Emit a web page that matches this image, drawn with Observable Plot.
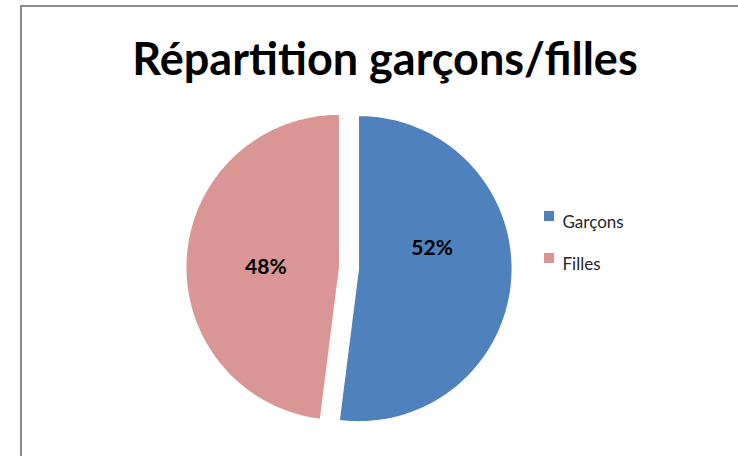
<!DOCTYPE html>
<html>
<head>
<meta charset="utf-8">
<script src="https://cdn.jsdelivr.net/npm/d3@7"></script>
<script src="https://cdn.jsdelivr.net/npm/@observablehq/plot@0.6"></script>
<style>
  html, body { margin: 0; padding: 0; background: #fff; }
  #wrap { position: relative; width: 738px; height: 456px; overflow: hidden; background: #fff; font-family: Lato, "Open Sans", sans-serif; }
  #frame { position: absolute; left: 20px; top: 5px; width: 800px; height: 500px; border-left: 2px solid #8c8c8c; border-top: 2px solid #8c8c8c; }
  #title { position: absolute; left: 0; width: 770px; top: 31px; text-align: center; font-weight: 700; font-size: 45px; color: #000; white-space: nowrap; }
  #chart { position: absolute; left: 0; top: 0; }
  #legend { position: absolute; left: 544px; top: 211px; }
  .leg-swatches-columns .leg-swatch { padding-bottom: 0 !important; height: 42px; align-items: flex-start !important; }
  .leg-swatch > span, .leg-swatch { font-family: Lato, "Open Sans", sans-serif; font-size: 17px; color: #262626; }
</style>
</head>
<body>
<div id="wrap">
  <div id="frame"></div>
  <div id="chart"></div>
  <div id="title"></div>
  <div id="legend"></div>
</div>
<script>
const categories = ["Garçons", "Filles"];
const values = [52, 48];
const colors = ["#4F81BD", "#D99694"];
const titleText = "Répartition garçons/filles";

document.getElementById("title").textContent = titleText;

const total = d3.sum(values);
const arcs = d3.pie().sort(null).value(d => d)(values);
const explode = 0.066;

const slices = [];
const labels = [];
arcs.forEach((a, i) => {
  const mid = (a.startAngle + a.endAngle) / 2;
  const ox = explode * Math.sin(mid), oy = explode * Math.cos(mid);
  slices.push({name: categories[i], x: ox, y: oy});
  const n = Math.max(2, Math.ceil((a.endAngle - a.startAngle) / (Math.PI / 180)));
  for (let k = 0; k <= n; ++k) {
    const t = a.startAngle + (a.endAngle - a.startAngle) * k / n;
    slices.push({name: categories[i], x: ox + Math.sin(t), y: oy + Math.cos(t)});
  }
  const lr = 0.48;
  labels.push({name: categories[i], x: ox + lr * Math.sin(mid), y: oy + lr * Math.cos(mid),
               text: Math.round(values[i] / total * 100) + "%"});
});

const plot = Plot.plot({
  width: 738,
  height: 456,
  margin: 0,
  style: {background: "transparent", overflow: "visible"},
  x: {domain: [-1, 1], range: [196, 501], axis: null},
  y: {domain: [-1, 1], range: [420, 115], axis: null},
  color: {domain: categories, range: colors},
  marks: [
    Plot.line(slices, {x: "x", y: "y", z: "name", fill: "name", stroke: "none", curve: "linear-closed"}),
    Plot.text(labels, {filter: d => d.name === categories[0], x: "x", y: "y", text: "text", dy: -25,
      fontSize: 21, fontWeight: 700, fill: "#000", fontFamily: "Lato, 'Open Sans', sans-serif"}),
    Plot.text(labels, {filter: d => d.name === categories[1], x: "x", y: "y", text: "text", dy: 4,
      fontSize: 21, fontWeight: 700, fill: "#000", fontFamily: "Lato, 'Open Sans', sans-serif"})
  ]
});
document.getElementById("chart").appendChild(plot);

const leg = plot.legend("color", {columns: 1, swatchSize: 10, className: "leg"});
document.getElementById("legend").appendChild(leg);
</script>
</body>
</html>
